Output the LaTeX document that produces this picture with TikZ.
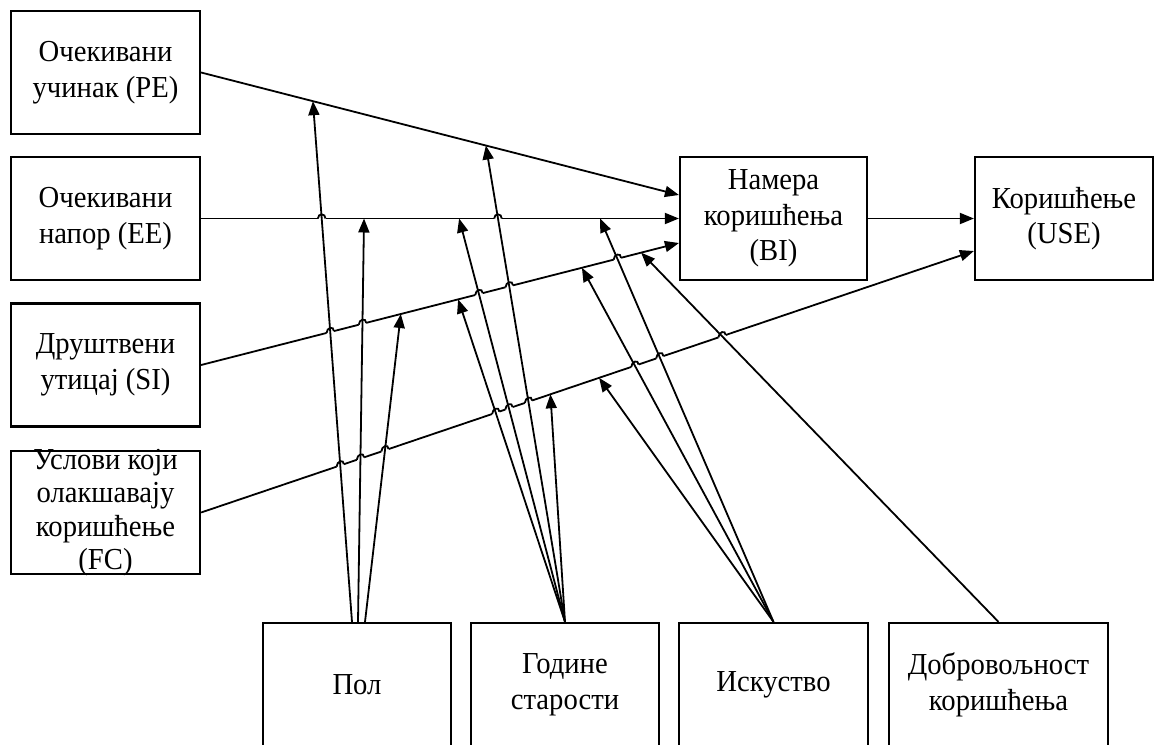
\documentclass[tikz,border=0pt]{standalone}
\usepackage{fontspec}
\setmainfont{Liberation Serif}[FakeStretch=0.94]
\usetikzlibrary{arrows.meta,calc,intersections}
\pgfdeclarelayer{front}
\pgfsetlayers{main,front}

% small hop of a line over a crossing line: #1 crossing, #2 line start, #3 line end
\newcommand\linehop[3]{%
  \coordinate (hA) at ($(#1)!3.8pt!(#2)$);
  \coordinate (hB) at ($(#1)!3.8pt!(#3)$);
  \draw[white, line width=3.2pt] (hA) -- (hB);
  \begin{pgfonlayer}{front}
    \draw[plain] (hA) .. controls ($(hA)+(0,-5.5)$) and ($(hB)+(0,-5.5)$) .. (hB);
  \end{pgfonlayer}
}

\begin{document}
\begin{tikzpicture}[x=1pt,y=-1pt,
  box/.style={draw, line width=2.2pt, minimum height=123pt, inner sep=2pt,
    align=center, font=\fontsize{30.5}{35.5}\selectfont},
  boxtext/.style={align=center, font=\fontsize{30.5}{33.5}\selectfont, inner sep=0pt},
  plain/.style={line width=1.8pt},
  link/.style={plain, -{Triangle[length=14pt,width=11pt]}}]
\useasboundingbox (0,0) rectangle (1156,744);
\fill[white] (0,0) rectangle (1156,744);

% input constructs
\node[box, minimum width=189pt] (pe) at (105.5,72.5) {Очекивани\\учинак (PE)};
\node[box, minimum width=189pt] (ee) at (105.5,218.5) {Очекивани\\напор (EE)};
\node[box, minimum width=189pt] (si) at (105.5,365) {Друштвени\\утицај (SI)};
\node[box, minimum width=189pt,
  label={[boxtext]center:{Услови који\\олакшавају\\коришћење\\(FC)}}] (fc) at (105.5,512.5) {};

% outcome constructs
\node[box, minimum width=187pt] (bi) at (773.5,218.5) {Намера\\коришћења\\(BI)};
\node[box, minimum width=178pt] (use) at (1064,218.5) {Коришћење\\(USE)};

% moderators
\node[box, minimum width=188pt, minimum height=124pt] (pol) at (357,685) {Пол};
\node[box, minimum width=188pt, minimum height=124pt] (god) at (565,685) {Године\\старости};
\node[box, minimum width=189pt, minimum height=124pt] (isk) at (773.5,685) {Искуство};
\node[box, minimum width=219pt, minimum height=124pt] (dob) at (998.5,685) {Добровољност\\коришћења};

% end points on the receiving boxes
\coordinate (bipe) at ($(bi.west)+(0,-23.5)$);
\coordinate (bisi) at ($(bi.west)+(0,24.5)$);
\coordinate (usefc) at ($(use.west)+(0,32.5)$);

% main paths
\draw[link, name path=lpe] (pe.east) -- (bipe);
\draw[link, name path=lee] (ee.east) -- (bi.west);
\draw[link, name path=lsi] (si.east) -- (bisi);
\draw[link, name path=lfc] (fc.east) -- (usefc);
\draw[link] (bi.east) -- (use.west);

% moderator targets on the main paths
\coordinate (tpolpe) at ($(pe.east)!0.234!(bipe)$);
\coordinate (tgodpe) at ($(pe.east)!0.596!(bipe)$);
\coordinate (tpolee) at ($(ee.east)!0.341!(bi.west)$);
\coordinate (tgodee) at ($(ee.east)!0.540!(bi.west)$);
\coordinate (tiskee) at ($(ee.east)!0.835!(bi.west)$);
\coordinate (tpolsi) at ($(si.east)!0.418!(bisi)$);
\coordinate (tgodsi) at ($(si.east)!0.538!(bisi)$);
\coordinate (tisksi) at ($(si.east)!0.797!(bisi)$);
\coordinate (tdobsi) at ($(si.east)!0.921!(bisi)$);
\coordinate (tgodfc) at ($(fc.east)!0.452!(usefc)$);
\coordinate (tiskfc) at ($(fc.east)!0.515!(usefc)$);

% moderator start points
\coordinate (spola) at ($(pol.north)+(-5,0)$);
\coordinate (spolb) at ($(pol.north)+(1,0)$);
\coordinate (spolc) at ($(pol.north)+(8,0)$);

\path[name path=mpolpe] (spola) -- (tpolpe);
\path[name path=mpolee] (spolb) -- (tpolee);
\path[name path=mpolsi] (spolc) -- (tpolsi);
\path[name path=mgodpe] (god.north) -- (tgodpe);
\path[name path=mgodee] (god.north) -- (tgodee);
\path[name path=mgodsi] (god.north) -- (tgodsi);
\path[name path=miskee] (isk.north) -- (tiskee);
\path[name path=misksi] (isk.north) -- (tisksi);
\path[name path=mdobsi] (dob.north) -- (tdobsi);

% hops where the main paths pass over moderator lines
\foreach \m in {mpolpe,mgodpe}{
  \path[name intersections={of=lee and \m, by={c}}];
  \linehop{c}{ee.east}{bi.west}
}
\foreach \m in {mpolpe,mpolee,mgodpe,mgodee,miskee}{
  \path[name intersections={of=lsi and \m, by={c}}];
  \linehop{c}{si.east}{bisi}
}
\foreach \m in {mpolpe,mpolee,mpolsi,mgodpe,mgodee,mgodsi,miskee,misksi,mdobsi}{
  \path[name intersections={of=lfc and \m, by={c}}];
  \linehop{c}{fc.east}{usefc}
}

% moderator arrows
\begin{pgfonlayer}{front}
\draw[link] (spola) -- (tpolpe);
\draw[link] (spolb) -- (tpolee);
\draw[link] (spolc) -- (tpolsi);
\draw[link] (god.north) -- (tgodpe);
\draw[link] (god.north) -- (tgodee);
\draw[link] (god.north) -- (tgodsi);
\draw[link] (god.north) -- (tgodfc);
\draw[link] (isk.north) -- (tiskee);
\draw[link] (isk.north) -- (tisksi);
\draw[link] (isk.north) -- (tiskfc);
\draw[link] (dob.north) -- (tdobsi);
\end{pgfonlayer}
\end{tikzpicture}
\end{document}
